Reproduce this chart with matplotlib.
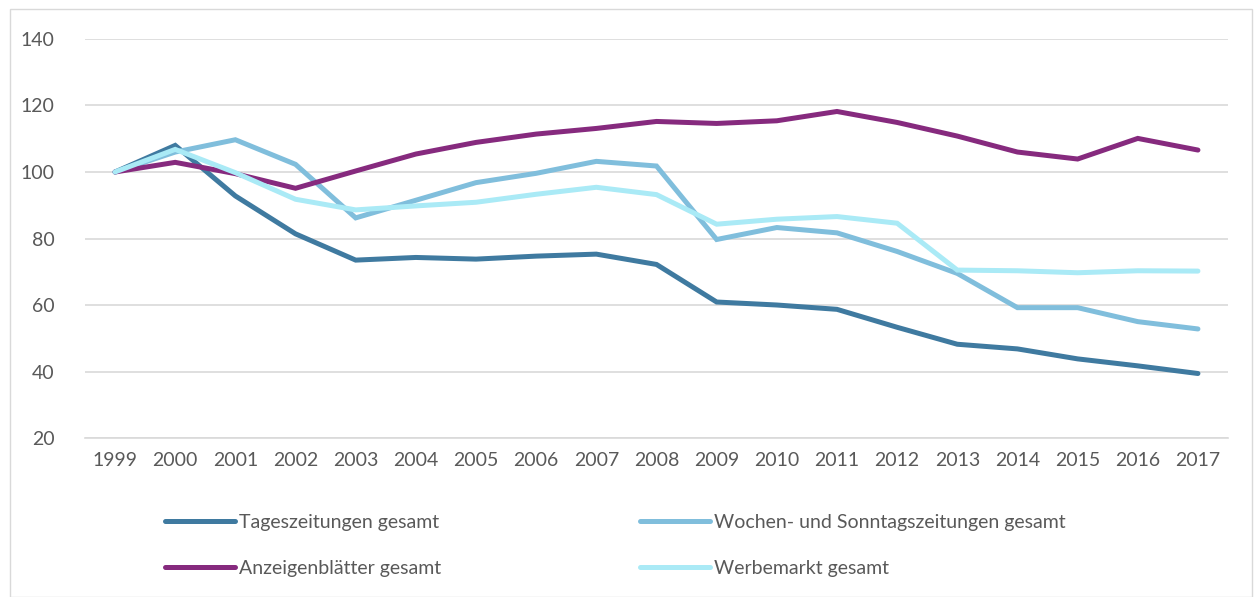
import numpy as np
import matplotlib.pyplot as plt
from matplotlib.patches import Rectangle

years = [str(y) for y in range(1999, 2018)]

tageszeitungen = [100, 108, 92.8, 81.4, 73.5, 74.3, 73.8, 74.7, 75.3, 72.2,
                  60.9, 60.0, 58.7, 53.3, 48.2, 46.8, 43.8, 41.7, 39.4]
wochen_sonntag = [100, 106, 109.7, 102.3, 86.2, 91.5, 96.8, 99.6, 103.2, 101.8,
                  79.7, 83.3, 81.7, 76.1, 69.5, 59.2, 59.2, 55.0, 52.8]
anzeigenblaetter = [100, 102.9, 99.5, 95.1, 100.3, 105.4, 108.9, 111.4, 113.1, 115.2,
                    114.6, 115.4, 118.2, 114.9, 110.8, 106.0, 103.9, 110.1, 106.6]
werbemarkt = [100, 106.8, 99.8, 91.8, 88.6, 89.8, 90.9, 93.3, 95.4, 93.2,
              84.3, 85.8, 86.6, 84.6, 70.5, 70.3, 69.7, 70.3, 70.2]

series = [
    ("Tageszeitungen gesamt", tageszeitungen, "#3f7aa0"),
    ("Wochen- und Sonntagszeitungen gesamt", wochen_sonntag, "#80bedc"),
    ("Anzeigenblätter gesamt", anzeigenblaetter, "#862a7e"),
    ("Werbemarkt gesamt", werbemarkt, "#aaeaf6"),
]

plt.rcParams['font.family'] = ['Lato', 'DejaVu Sans']
text_color = "#595959"

fig = plt.figure(figsize=(12.55, 5.97), dpi=100)
ax = fig.add_axes([0.0677, 0.2663, 0.9108, 0.6684])

x = np.arange(len(years))
for label, vals, color in series:
    ax.plot(x, vals, color=color, lw=3.6, label=label, solid_capstyle="round",
            solid_joinstyle="miter")

ax.set_xlim(-0.5, len(years) - 0.5)
ax.set_ylim(20, 140)
ax.set_yticks(range(20, 141, 20))
ax.set_xticks(x)
ax.set_xticklabels(years)
ax.grid(axis="y", color="#d9d9d9", lw=1.2)
ax.set_axisbelow(True)
for s in ["top", "right", "left"]:
    ax.spines[s].set_visible(False)
ax.spines["bottom"].set_color("#d9d9d9")
ax.spines["bottom"].set_linewidth(1.2)
ax.tick_params(length=0, labelsize=14, colors=text_color, pad=10)
ax.tick_params(axis="y", pad=22)

handles, labels = ax.get_legend_handles_labels()
order = [0, 2, 1, 3]
leg = fig.legend([handles[i] for i in order], [labels[i] for i in order],
                 ncol=2, loc="upper left", bbox_to_anchor=(0.125, 0.152),
                 frameon=False, fontsize=14, handlelength=3.6, handletextpad=0.2,
                 columnspacing=10.25, labelspacing=1.5, borderaxespad=0)
for t in leg.get_texts():
    t.set_color(text_color)

fig.patches.append(Rectangle((0.008, 0.0), 0.99, 0.985, transform=fig.transFigure,
                             fill=False, edgecolor="#d9d9d9", lw=1))

fig.savefig("out.png", dpi=100)
